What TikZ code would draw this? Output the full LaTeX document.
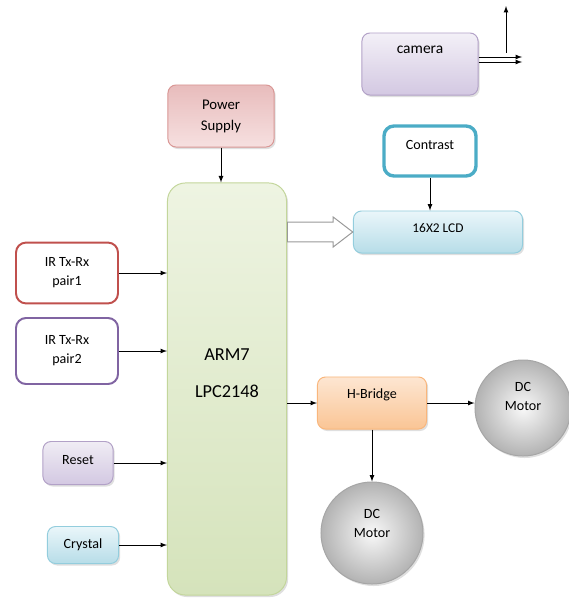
\documentclass[tikz,border=0pt]{standalone}
\usepackage{fontspec}
\setmainfont{Carlito}
\usetikzlibrary{shapes.arrows,shadows,arrows}

\definecolor{camedge}{HTML}{B2A1C7}
\definecolor{camtop}{HTML}{F3F0F7}
\definecolor{cambot}{HTML}{D3C8E2}
\definecolor{pwredge}{HTML}{D99694}
\definecolor{pwrtop}{HTML}{E8BCBC}
\definecolor{pwrbot}{HTML}{F6E0E0}
\definecolor{armedge}{HTML}{C3D69B}
\definecolor{armtop}{HTML}{EEF4E2}
\definecolor{armbot}{HTML}{D5E3BB}
\definecolor{lcdedge}{HTML}{93CDDD}
\definecolor{lcdtop}{HTML}{EAF6FA}
\definecolor{lcdbot}{HTML}{B7DDE8}
\definecolor{hbedge}{HTML}{F9B67C}
\definecolor{hbtop}{HTML}{FDE6D2}
\definecolor{hbbot}{HTML}{FAC595}
\definecolor{contrastedge}{HTML}{4BACC6}
\definecolor{irred}{HTML}{C0504D}
\definecolor{irpurple}{HTML}{8064A2}

\tikzset{
  blk/.style={rectangle, rounded corners=0.2cm, line width=0.7pt, align=center,
    drop shadow={opacity=0.25, shadow xshift=0.04cm, shadow yshift=-0.05cm}},
  outline/.style={rectangle, rounded corners=0.25cm, fill=white, align=center},
  motor/.style={circle, draw=gray!70, line width=0.7pt, inner color=gray!5,
    outer color=gray!60, minimum size=#1,
    drop shadow={opacity=0.25, shadow xshift=0.04cm, shadow yshift=-0.05cm}},
  small/.style={font=\fontsize{10}{13.5}\selectfont}
}

\begin{document}
\begin{tikzpicture}[x=0.025cm, y=-0.025cm]
\useasboundingbox (0,0) rectangle (569,599);

% inputs and outputs
\node[blk, draw=camedge, top color=camtop, bottom color=cambot, minimum width=2.9cm,
  minimum height=1.55cm, text depth=0.7cm, font=\fontsize{11}{13}\selectfont] (camera) at (420,64) {camera};
\node[blk, draw=pwredge, top color=pwrtop, bottom color=pwrbot, minimum width=2.65cm,
  minimum height=1.55cm, font=\fontsize{10.5}{15}\selectfont] (power) at (221,116) {Power\\Supply};
\node[blk, rounded corners=0.45cm, draw=armedge, top color=armtop, bottom color=armbot,
  minimum width=2.975cm, minimum height=10.3cm,
  label={[align=center, yshift=0.39cm, font=\fontsize{13}{26}\selectfont]center:{ARM7\\LPC2148}}] (arm) at (227,389) {};
\node[outline, draw=contrastedge, line width=2.4pt, minimum width=2.3cm, minimum height=1.25cm,
  text depth=0.3cm, small] (contrast) at (430,151) {Contrast};
\node[blk, draw=lcdedge, top color=lcdtop, bottom color=lcdbot, minimum width=4.225cm,
  minimum height=1.05cm, text depth=0.2cm, font=\fontsize{9.5}{12}\selectfont] (lcd) at (438,232) {16X2 LCD};
\node[outline, draw=irred, line width=1.4pt, minimum width=2.55cm, minimum height=1.52cm, small] (ir1) at (67,273) {IR Tx-Rx\\pair1};
\node[outline, draw=irpurple, line width=1.4pt, minimum width=2.55cm, minimum height=1.65cm, small] (ir2) at (67,351) {IR Tx-Rx\\pair2};
\node[blk, draw=camedge, top color=camtop!60!camedge!40, bottom color=cambot, minimum width=1.75cm,
  minimum height=1.075cm, text depth=0.15cm, small] (reset) at (78,463) {Reset};
\node[blk, draw=lcdedge, top color=lcdtop, bottom color=lcdbot, minimum width=1.775cm,
  minimum height=0.925cm, small] (crystal) at (83,545) {Crystal};
\node[blk, draw=hbedge, top color=hbtop, bottom color=hbbot, minimum width=2.725cm,
  minimum height=1.3cm, text depth=0.45cm, small] (hbridge) at (372,403) {H-Bridge};
\node[motor=2.4cm, label={[align=center, yshift=0.28cm, small]center:{DC\\Motor}}] (dc1) at (523,408) {};
\node[motor=2.55cm, label={[align=center, yshift=0.25cm, small]center:{DC\\Motor}}] (dc2) at (372,533) {};

% data bus to the display
\node[single arrow, draw=gray!80, fill=white, line width=0.7pt, inner xsep=0pt, inner ysep=0.18cm,
  minimum width=0.75cm, single arrow head extend=0.1cm, single arrow tip angle=75,
  minimum height=1.63cm, anchor=tail] (bus) at (arm.east |- lcd.west) {};

\coordinate (camout) at (522,60);
\coordinate (camup) at (506,6);

\begin{scope}[every path/.style={-latex, line width=0.6pt}]
    \path (power.south) edge (power.south |- arm.north);
    \path (contrast.south) edge (contrast.south |- lcd.north);
    \path (ir1.east) edge (ir1.east -| arm.west);
    \path (ir2.east) edge (ir2.east -| arm.west);
    \path (reset.east) edge (reset.east -| arm.west);
    \path (crystal.east) edge (crystal.east -| arm.west);
    \path (hbridge.west -| arm.east) edge (hbridge.west);
    \path (hbridge.east) edge (hbridge.east -| dc1.west);
    \path (hbridge.south) edge (dc2.north);
    \path ([yshift=0.175cm]camera.east) edge ([yshift=0.175cm]camera.east -| camout);
    \path ([yshift=0.05cm]camera.east) edge ([yshift=0.05cm]camera.east -| camout);
    \path ([yshift=0.275cm]camera.east -| camup) edge (camup);
\end{scope}
\end{tikzpicture}
\end{document}
